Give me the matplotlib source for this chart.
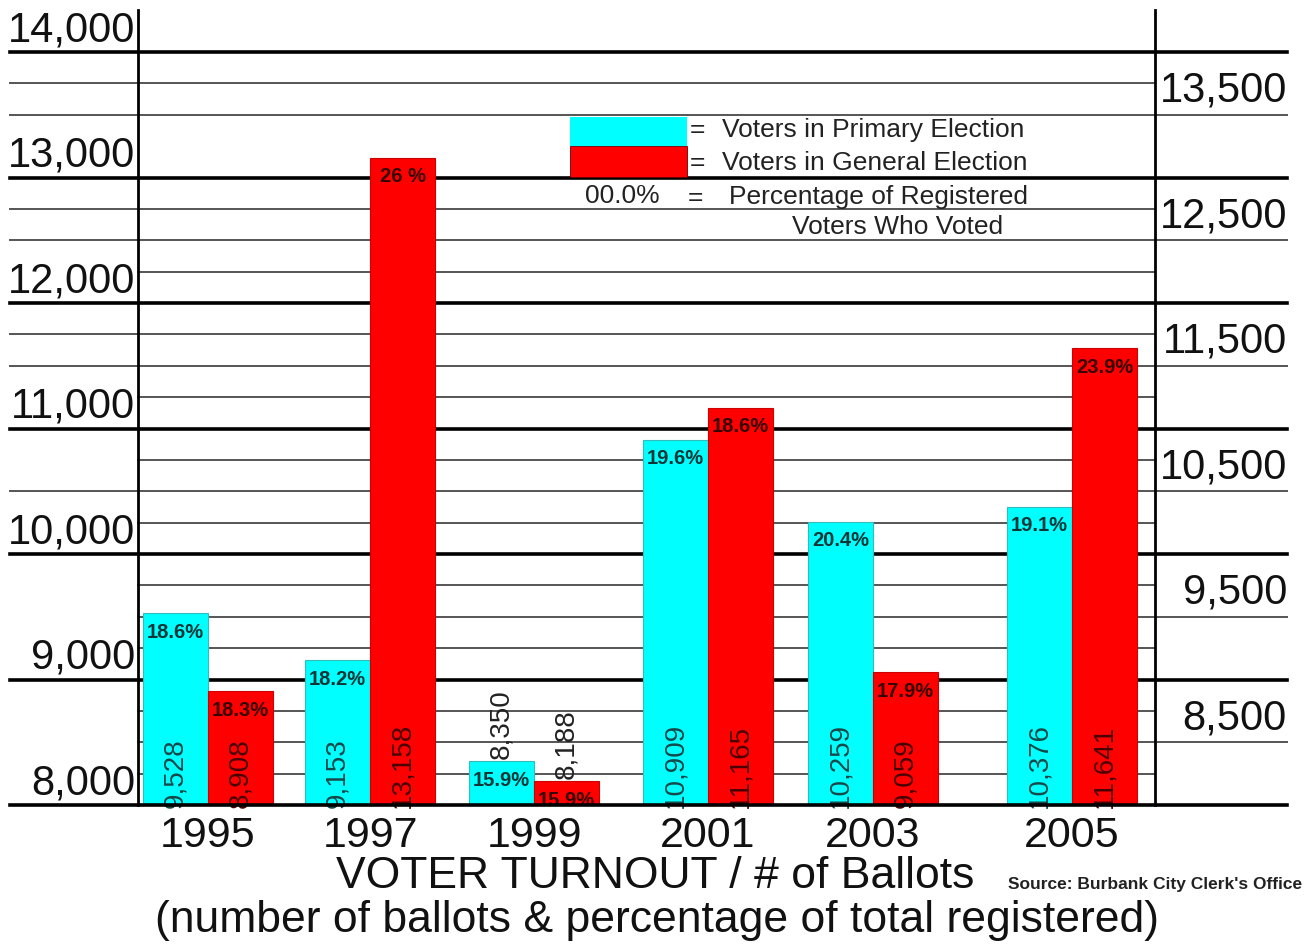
import matplotlib
matplotlib.use('Agg')
import matplotlib.pyplot as plt
from matplotlib.patches import Rectangle

plt.rcParams['font.family'] = ['Liberation Sans', 'DejaVu Sans']

# Ballots cast per election year
years = ['1995', '1997', '1999', '2001', '2003', '2005']
primary_votes = [9528, 9153, 8350, 10909, 10259, 10376]
general_votes = [8908, 13158, 8188, 11165, 9059, 11641]
primary_pct = ['18.6%', '18.2%', '15.9%', '19.6%', '20.4%', '19.1%']
general_pct = ['18.3%', '26 %', '15.9%', '18.6%', '17.9%', '23.9%']

left_ticks = [8000, 9000, 10000, 11000, 12000, 13000, 14000]
right_ticks = [8500, 9500, 10500, 11500, 12500, 13500]

# figure is laid out in pixels
W, H = 1309, 946
AX_L, AX_R, AX_T, AX_B = 138, 1155, 10, 805
Y_MIN, Y_MAX = 8000, 14335

group_x = [70, 232, 396, 570, 735, 934]
bar_w = 65

CYAN = '#00ffff'
RED = '#ff0000'


def fig_xy(px, py):
    return px / W, 1 - py / H


fig = plt.figure(figsize=(W / 100, H / 100), dpi=100)
ax = fig.add_axes([AX_L / W, 1 - AX_B / H, (AX_R - AX_L) / W, (AX_B - AX_T) / H])
ax.set_xlim(0, AX_R - AX_L)
ax.set_ylim(Y_MIN, Y_MAX)
ax.set_xticks([])
ax.set_yticks([])
for side in ('top', 'bottom'):
    ax.spines[side].set_visible(False)
for side in ('left', 'right'):
    ax.spines[side].set_linewidth(2.0)
    ax.spines[side].set_zorder(5)

# horizontal rules, some of them run out past the axes
x_far_left = (10 - AX_L) / (AX_R - AX_L)
x_far_right = (1287 - AX_L) / (AX_R - AX_L)
ytr = ax.get_yaxis_transform()

left_ext = {13750, 13500, 12750, 12500, 11750, 11500, 10500}
thin_lines = [v for v in range(8250, 14000, 250) if v % 1000 and v != 13250]

for v in thin_lines:
    x0 = x_far_left if v in left_ext else 0
    x1 = x_far_right if v % 500 == 0 else 1
    ax.plot([x0, x1], [v, v], transform=ytr, color='#555555', lw=1.4,
            clip_on=False, zorder=1)
for v in left_ticks:
    ax.plot([x_far_left, x_far_right], [v, v], transform=ytr, color='black',
            lw=2.6, clip_on=False, zorder=4 if v == 8000 else 1)

# tick labels sit just above their rules
for v in left_ticks:
    ax.annotate(f'{v:,}', xy=(0, v), xycoords=ytr, xytext=(-3, 22),
                textcoords='offset pixels', ha='right', va='center',
                fontsize=30, color='#111111')
for v in right_ticks:
    ax.annotate(f'{v:,}', xy=(x_far_right, v), xycoords=ytr, xytext=(0, 24),
                textcoords='offset pixels', ha='right', va='center',
                fontsize=30, color='#111111')

# bars
prim_x = [g - bar_w / 2 for g in group_x]
gen_x = [g + bar_w / 2 for g in group_x]
ax.bar(prim_x, [v - Y_MIN for v in primary_votes], bottom=Y_MIN, width=bar_w,
       color=CYAN, edgecolor='#33bbbb', lw=0.8, zorder=2)
ax.bar(gen_x, [v - Y_MIN for v in general_votes], bottom=Y_MIN, width=bar_w,
       color=RED, edgecolor='#cc0000', lw=0.8, zorder=2)


def label_bars(xs, values, pcts, txt_color, pct_color):
    for x, v, p in zip(xs, values, pcts):
        if v - Y_MIN > 600:
            ax.text(x, Y_MIN - 20, f'{v:,}', rotation=90, ha='center',
                    va='bottom', fontsize=20, color=txt_color, zorder=3)
        else:
            ax.text(x, v + 20, f'{v:,}', rotation=90, ha='center',
                    va='bottom', fontsize=20, color='#222222', zorder=3)
        ax.annotate(p, xy=(x, v), xytext=(0, -19), textcoords='offset pixels',
                    ha='center', va='center', fontsize=14.5,
                    fontweight='bold', color=pct_color, zorder=3)


label_bars(prim_x, primary_votes, primary_pct, '#174848', '#0e3636')
label_bars(gen_x, general_votes, general_pct, '#4a0000', '#380000')

# year labels under each group
xtr = ax.get_xaxis_transform()
for g, yr in zip(group_x, years):
    ax.text(g, -31 / (AX_B - AX_T), yr, transform=xtr, ha='center',
            va='center', fontsize=31, color='#111111')

# key
ax.add_patch(Rectangle((432, 13251), 117, 231, facecolor=CYAN,
                       edgecolor='none', zorder=3))
ax.add_patch(Rectangle((432, 13004), 117, 247, facecolor=RED,
                       edgecolor='#660000', lw=0.6, zorder=3))
key_style = dict(fontsize=19, color='#222222', va='center', ha='left')
fig.text(*fig_xy(690, 130), '=', **key_style)
fig.text(*fig_xy(722, 130), 'Voters in Primary Election', **key_style)
fig.text(*fig_xy(690, 163), '=', **key_style)
fig.text(*fig_xy(722, 163), 'Voters in General Election', **key_style)
fig.text(*fig_xy(585, 196), '00.0%', **key_style)
fig.text(*fig_xy(688, 198), '=', **key_style)
fig.text(*fig_xy(729, 197), 'Percentage of Registered', **key_style)
fig.text(*fig_xy(792, 227), 'Voters Who Voted', **key_style)

# titles and source
fig.text(*fig_xy(655, 876), 'VOTER TURNOUT / # of Ballots', ha='center',
         va='center', fontsize=32, color='#111111')
fig.text(*fig_xy(657, 920),
         '(number of ballots & percentage of total registered)',
         ha='center', va='center', fontsize=32, color='#111111')
fig.text(*fig_xy(1008, 884), "Source: Burbank City Clerk's Office",
         ha='left', va='center', fontsize=12.5, fontweight='bold',
         color='#222222')

fig.savefig('out.png', dpi=100, facecolor='white')
